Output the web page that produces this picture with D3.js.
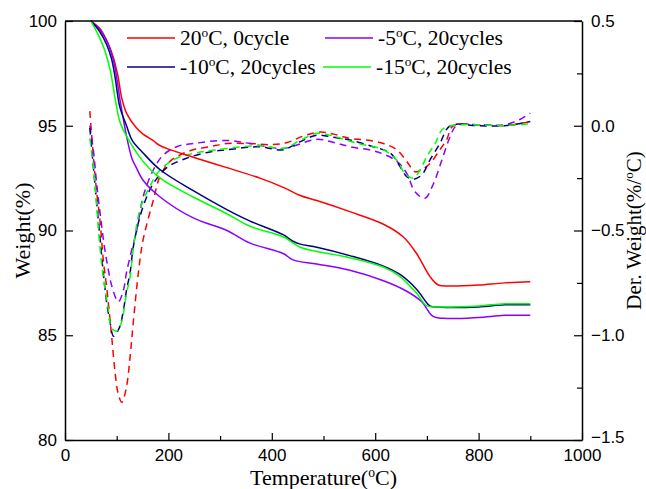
<!DOCTYPE html>
<html>
<head>
<meta charset="utf-8">
<script src="https://cdn.jsdelivr.net/npm/d3@7/dist/d3.min.js"></script>
<style>
  html, body { margin: 0; padding: 0; background: #fff; }
  svg { display: block; }
</style>
</head>
<body>
<svg id="chart" width="646" height="489"></svg>
<script>
// ---------- DATA ----------
const xTicks = [0, 200, 400, 600, 800, 1000];
const yLeftTicks = [80, 85, 90, 95, 100];
const yRightTicks = [-1.5, -1.0, -0.5, 0.0, 0.5];

const seriesNames = ["20ºC, 0cycle", "-5ºC, 20cycles", "-10ºC, 20cycles", "-15ºC, 20cycles"];
const seriesColors = ["#ff0000", "#8b00ff", "#000080", "#00ff00"];

// TG weight curves [temperature, weight %]
const tgRed = [[50,100],[67,99.65],[80,99.1],[93,98.3],[103,97.3],[109,96.4],[119,95.6],[138,94.9],[151,94.6],[170,94.3],[184,94.05],[210,93.8],[248,93.5],[313,93.0],[377,92.5],[422,92.06],[455,91.67],[487,91.43],[551,90.9],[616,90.3],[654,89.7],[680,88.9],[706,87.8],[722,87.4],[745,87.35],[800,87.4],[850,87.5],[900,87.55]];
const tgPurple = [[50,100],[67,99.6],[80,99.1],[93,98.2],[100,97.3],[106,96.3],[113,95.3],[119,94.5],[130,93.4],[138,93.0],[151,92.4],[184,91.6],[248,90.6],[313,90.0],[358,89.4],[422,88.9],[441,88.6],[487,88.4],[551,88.1],[616,87.6],[661,87.1],[690,86.6],[712,85.9],[740,85.8],[800,85.85],[850,85.95],[900,85.95]];
const tgNavy = [[50,100],[67,99.5],[80,98.9],[90,98.2],[97,97.3],[106,95.9],[119,95.0],[130,94.3],[151,93.7],[184,92.9],[248,91.9],[313,91.0],[358,90.45],[422,89.8],[440,89.5],[455,89.35],[487,89.2],[551,88.8],[616,88.3],[648,87.9],[680,87.2],[706,86.4],[720,86.35],[800,86.35],[850,86.45],[900,86.45]];
const tgGreen = [[50,100],[61,99.5],[74,98.8],[87,97.7],[97,96.3],[106,95.2],[119,94.5],[151,93.3],[184,92.5],[248,91.6],[313,90.8],[358,90.2],[422,89.7],[455,89.2],[487,89.0],[551,88.7],[616,88.25],[648,87.8],[680,87.0],[700,86.4],[720,86.35],[800,86.4],[850,86.5],[900,86.5]];

// DTG curves [temperature, derivative weight %/ºC]
const dtgRed = [[48,0.07],[55,-0.15],[61,-0.31],[68,-0.46],[74,-0.64],[81,-0.78],[90,-1.0],[97,-1.18],[103,-1.28],[110,-1.32],[119,-1.245],[126,-1.10],[132,-0.94],[142,-0.70],[151,-0.545],[171,-0.354],[184,-0.24],[203,-0.17],[222,-0.14],[248,-0.115],[280,-0.10],[313,-0.085],[358,-0.085],[400,-0.09],[430,-0.08],[460,-0.05],[493,-0.03],[520,-0.04],[551,-0.06],[583,-0.068],[616,-0.085],[642,-0.115],[661,-0.17],[677,-0.22],[690,-0.21],[706,-0.18],[725,-0.115],[738,-0.068],[751,0.0],[800,0.005],[850,0.0],[900,0.02]];
const dtgPurple = [[48,0.0],[55,-0.12],[61,-0.27],[68,-0.42],[77,-0.59],[84,-0.69],[90,-0.76],[103,-0.84],[113,-0.785],[119,-0.70],[129,-0.593],[139,-0.497],[151,-0.34],[171,-0.21],[190,-0.14],[216,-0.10],[248,-0.085],[313,-0.07],[358,-0.085],[422,-0.108],[487,-0.065],[520,-0.08],[551,-0.10],[603,-0.124],[642,-0.17],[661,-0.227],[677,-0.315],[696,-0.346],[713,-0.275],[729,-0.163],[745,-0.052],[757,0.0],[800,0.005],[850,0.005],[880,0.03],[900,0.06]];
const dtgNavy = [[48,-0.01],[55,-0.2],[61,-0.36],[68,-0.545],[74,-0.70],[81,-0.85],[87,-0.935],[94,-1.005],[105,-0.965],[113,-0.88],[119,-0.785],[126,-0.70],[132,-0.58],[145,-0.434],[158,-0.34],[171,-0.275],[197,-0.2],[235,-0.155],[280,-0.125],[313,-0.115],[377,-0.10],[400,-0.11],[422,-0.115],[455,-0.076],[487,-0.045],[520,-0.055],[551,-0.068],[596,-0.10],[629,-0.13],[648,-0.195],[661,-0.243],[674,-0.255],[690,-0.235],[706,-0.163],[725,-0.085],[745,0.0],[800,0.0],[850,0.0],[900,0.02]];
const dtgGreen = [[48,-0.06],[55,-0.2],[61,-0.38],[68,-0.59],[74,-0.72],[84,-0.88],[90,-0.965],[100,-0.98],[109,-0.94],[119,-0.80],[126,-0.72],[132,-0.59],[145,-0.40],[164,-0.29],[184,-0.21],[216,-0.155],[248,-0.132],[293,-0.115],[377,-0.095],[422,-0.108],[455,-0.07],[487,-0.036],[520,-0.05],[564,-0.083],[616,-0.115],[642,-0.165],[658,-0.23],[674,-0.25],[687,-0.21],[700,-0.145],[716,-0.085],[729,-0.02],[745,0.0],[800,0.005],[850,0.0],[900,0.01]];

const tgSeries = [tgRed, tgPurple, tgNavy, tgGreen];
const dtgSeries = [dtgRed, dtgPurple, dtgNavy, dtgGreen];

// ---------- LAYOUT ----------
const L = 65, R = 582, T = 21, B = 440;
const svg = d3.select("#chart");
const x = d3.scaleLinear().domain([0, 1000]).range([L, R]);
const yL = d3.scaleLinear().domain([80, 100]).range([B, T]);
const yR = d3.scaleLinear().domain([-1.5, 0.5]).range([B, T]);

const tickFont = "'Liberation Sans', Arial, sans-serif";
const serif = "'Liberation Serif', 'Times New Roman', serif";

// curves
const lineL = d3.line().x(d => x(d[0])).y(d => yL(d[1])).curve(d3.curveCatmullRom.alpha(0.5));
const lineR = d3.line().x(d => x(d[0])).y(d => yR(d[1])).curve(d3.curveCatmullRom.alpha(0.5));

const plot = svg.append("g");
dtgSeries.forEach((s, i) => {
  plot.append("path").attr("d", lineR(s)).attr("fill", "none")
    .attr("stroke", seriesColors[i]).attr("stroke-width", 1.5)
    .attr("stroke-dasharray", "7,5");
});
tgSeries.forEach((s, i) => {
  plot.append("path").attr("d", lineL(s)).attr("fill", "none")
    .attr("stroke", seriesColors[i]).attr("stroke-width", 1.5);
});

// axes
function styleAxis(g) {
  g.select(".domain").attr("stroke", "#000").attr("stroke-width", 1.5);
  g.selectAll(".tick line").attr("stroke", "#000").attr("stroke-width", 1.2);
  g.selectAll(".tick text").attr("font-family", tickFont).attr("font-size", 17).attr("fill", "#000");
}

// bottom
const xMinor = d3.range(100, 1000, 200);
svg.append("g").attr("transform", `translate(0,${B})`)
  .call(d3.axisBottom(x).tickValues(xMinor).tickSize(-4).tickFormat("").tickSizeOuter(0))
  .call(g => { g.select(".domain").remove(); g.selectAll(".tick line").attr("stroke", "#000").attr("stroke-width", 1.2); });
svg.append("g").attr("transform", `translate(0,${B})`)
  .call(d3.axisBottom(x).tickValues(xTicks).tickSizeInner(-7).tickSizeOuter(0).tickPadding(9).tickFormat(d3.format("d")))
  .call(styleAxis);

// left
svg.append("g").attr("transform", `translate(${L},0)`)
  .call(d3.axisLeft(yL).tickValues(yLeftTicks).tickSizeInner(-8).tickSizeOuter(0).tickPadding(8).tickFormat(d3.format("d")))
  .call(styleAxis);

// right
const yRMinor = [-1.25, -0.75, -0.25, 0.25];
svg.append("g").attr("transform", `translate(${R},0)`)
  .call(d3.axisRight(yR).tickValues(yRMinor).tickSize(-5).tickFormat("").tickSizeOuter(0))
  .call(g => { g.select(".domain").remove(); g.selectAll(".tick line").attr("stroke", "#000").attr("stroke-width", 1.2); });
svg.append("g").attr("transform", `translate(${R},0)`)
  .call(d3.axisRight(yR).tickValues(yRightTicks).tickSizeInner(-8).tickSizeOuter(0).tickPadding(9).tickFormat(d3.format(".1f")))
  .call(styleAxis)
  .call(g => g.selectAll(".tick text").attr("dy", d => d === -1.5 ? "0.15em" : "0.32em"));

// top border
svg.append("line").attr("x1", L).attr("x2", R).attr("y1", T).attr("y2", T)
  .attr("stroke", "#000").attr("stroke-width", 1.5);

// helper for text with superscript "o"
function degText(sel, before, after, size) {
  sel.append("tspan").text(before);
  sel.append("tspan").text("o").attr("font-size", size * 0.62).attr("dy", -size * 0.38);
  sel.append("tspan").text(after).attr("dy", size * 0.38);
}

// axis titles
const tx = svg.append("text").attr("x", (L + R) / 2).attr("y", 485).attr("text-anchor", "middle")
  .attr("font-family", serif).attr("font-size", 22).attr("fill", "#000");
degText(tx, "Temperature(", "C)", 22);

svg.append("text").attr("transform", `translate(30,${(T + B) / 2}) rotate(-90)`)
  .attr("text-anchor", "middle").attr("font-family", serif).attr("font-size", 22).attr("fill", "#000")
  .text("Weight(%)");

const ry = svg.append("text").attr("transform", `translate(641,${(T + B) / 2}) rotate(-90)`)
  .attr("text-anchor", "middle").attr("font-family", serif).attr("font-size", 21).attr("fill", "#000");
degText(ry, "Der. Weight(%/", "C)", 21);

// legend
const legPos = [[127, 38], [325, 38], [127, 67], [323, 67]];
const legLabels = [["20", "C, 0cycle"], ["-5", "C, 20cycles"], ["-10", "C, 20cycles"], ["-15", "C, 20cycles"]];
legPos.forEach((p, i) => {
  const g = svg.append("g");
  g.append("line").attr("x1", p[0]).attr("x2", p[0] + 48).attr("y1", p[1]).attr("y2", p[1])
    .attr("stroke", seriesColors[i]).attr("stroke-width", 1.5);
  const t = g.append("text").attr("x", p[0] + 53).attr("y", p[1] + 7)
    .attr("font-family", serif).attr("font-size", 21.5).attr("fill", "#000");
  degText(t, legLabels[i][0], legLabels[i][1], 21.5);
});
</script>
</body>
</html>
